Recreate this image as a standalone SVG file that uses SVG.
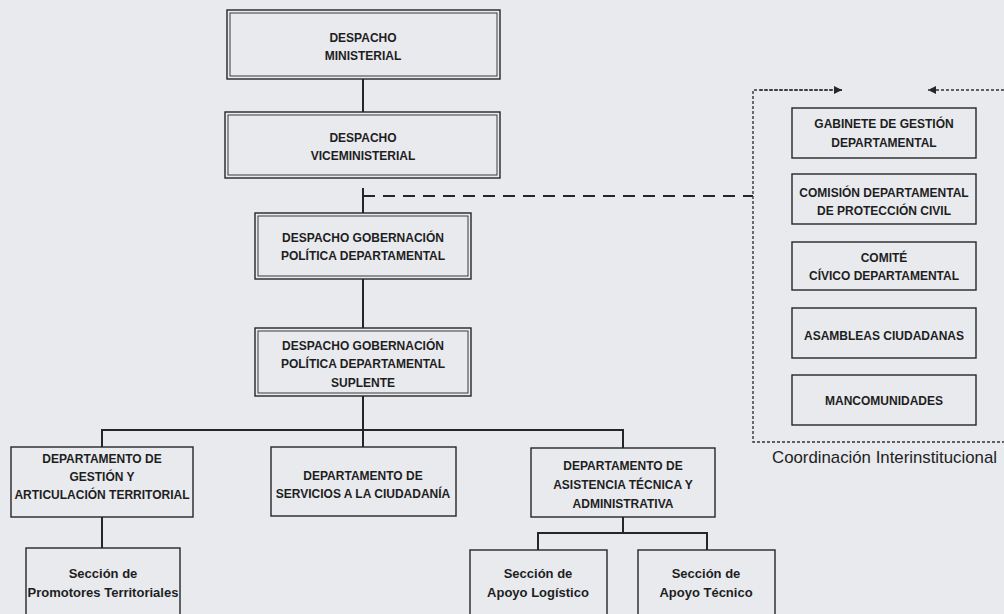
<svg xmlns="http://www.w3.org/2000/svg" width="1004" height="614" viewBox="0 0 1004 614">
<defs>
<style>
.bg{fill:#e8eaee}
.box{fill:none;stroke:#262626;stroke-width:1.4}
.in{fill:none;stroke:#3a3a3a;stroke-width:1}
.t{font-family:"Liberation Sans",Arial,sans-serif;font-size:12px;font-weight:bold;fill:#1e1e1e;text-anchor:middle}
.s{font-family:"Liberation Sans",Arial,sans-serif;font-size:13px;font-weight:bold;fill:#1e1e1e;text-anchor:middle}
.ln{fill:none;stroke:#262626;stroke-width:2}
.dash{fill:none;stroke:#262626;stroke-width:2;stroke-dasharray:12 8}
.dot{fill:none;stroke:#333;stroke-width:1.4;stroke-dasharray:3 2}
</style>
<marker id="ah" viewBox="0 0 10 10" refX="10" refY="5" markerWidth="10" markerHeight="8" markerUnits="userSpaceOnUse" orient="auto">
<path d="M0,0 L10,5 L0,10 Z" fill="#262626"/>
</marker>
</defs>
<rect class="bg" x="0" y="0" width="1004" height="614"/>

<g id="connectors">
<path class="ln" d="M363,79 V112"/>
<path class="ln" d="M363,188 V213"/>
<path class="dash" d="M363,196 H753"/>
<path class="ln" d="M363,279 V328"/>
<path class="ln" d="M363,396 V430"/>
<path class="ln" d="M102,447 V430 H623 V448"/>
<path class="ln" d="M363,430 V447"/>
<path class="ln" d="M102,517 V548"/>
<path class="ln" d="M623,517 V533"/>
<path class="ln" d="M538,550 V533 H707 V550"/>
<path class="dot" d="M842,90 H753 V442 H1004"/>
<path class="dot" d="M760,90 H842" marker-end="url(#ah)"/>
<path class="dot" d="M1004,90 H928" marker-end="url(#ah)"/>
</g>

<g id="despacho-ministerial">
<rect class="box" x="227" y="10" width="273" height="69"/>
<rect class="in" x="230" y="13" width="267" height="63"/>
<text class="t" x="363" y="42">DESPACHO</text>
<text class="t" x="363" y="60">MINISTERIAL</text>
</g>

<g id="despacho-viceministerial">
<rect class="box" x="225" y="112" width="275" height="66"/>
<rect class="in" x="228" y="115" width="269" height="60"/>
<text class="t" x="363" y="142">DESPACHO</text>
<text class="t" x="363" y="160">VICEMINISTERIAL</text>
</g>

<g id="gobernacion">
<rect class="box" x="255" y="213" width="216" height="66"/>
<rect class="in" x="258" y="216" width="210" height="60"/>
<text class="t" x="363" y="242">DESPACHO GOBERNACIÓN</text>
<text class="t" x="363" y="260">POLÍTICA DEPARTAMENTAL</text>
</g>

<g id="gobernacion-suplente">
<rect class="box" x="255" y="328" width="216" height="68"/>
<rect class="in" x="258" y="331" width="210" height="62"/>
<text class="t" x="363" y="350">DESPACHO GOBERNACIÓN</text>
<text class="t" x="363" y="368">POLÍTICA DEPARTAMENTAL</text>
<text class="t" x="363" y="387">SUPLENTE</text>
</g>

<g id="depto-gestion">
<rect class="box" x="11" y="447" width="182" height="70"/>
<text class="t" x="102" y="463">DEPARTAMENTO DE</text>
<text class="t" x="102" y="481">GESTIÓN Y</text>
<text class="t" x="102" y="499">ARTICULACIÓN TERRITORIAL</text>
</g>

<g id="depto-servicios">
<rect class="box" x="271" y="447" width="185" height="69"/>
<text class="t" x="363" y="480">DEPARTAMENTO DE</text>
<text class="t" x="363" y="498">SERVICIOS A LA CIUDADANÍA</text>
</g>

<g id="depto-asistencia">
<rect class="box" x="531" y="448" width="184" height="69"/>
<text class="t" x="623" y="470">DEPARTAMENTO DE</text>
<text class="t" x="623" y="489">ASISTENCIA TÉCNICA Y</text>
<text class="t" x="623" y="508">ADMINISTRATIVA</text>
</g>

<g id="seccion-promotores">
<rect class="box" x="26" y="548" width="154" height="80"/>
<text class="s" x="103" y="578">Sección de</text>
<text class="s" x="103" y="597">Promotores Territoriales</text>
</g>

<g id="seccion-logistico">
<rect class="box" x="470" y="550" width="137" height="80"/>
<text class="s" x="538" y="578">Sección de</text>
<text class="s" x="538" y="597">Apoyo Logístico</text>
</g>

<g id="seccion-tecnico">
<rect class="box" x="638" y="550" width="137" height="80"/>
<text class="s" x="706" y="578">Sección de</text>
<text class="s" x="706" y="597">Apoyo Técnico</text>
</g>

<g id="gabinete">
<rect class="box" x="792" y="108" width="184" height="50"/>
<text class="t" x="884" y="128">GABINETE DE GESTIÓN</text>
<text class="t" x="884" y="147">DEPARTAMENTAL</text>
</g>

<g id="comision">
<rect class="box" x="792" y="174" width="184" height="50"/>
<text class="t" x="884" y="197">COMISIÓN DEPARTAMENTAL</text>
<text class="t" x="884" y="215">DE PROTECCIÓN CIVIL</text>
</g>

<g id="comite">
<rect class="box" x="792" y="242" width="184" height="48"/>
<text class="t" x="884" y="262">COMITÉ</text>
<text class="t" x="884" y="280">CÍVICO DEPARTAMENTAL</text>
</g>

<g id="asambleas">
<rect class="box" x="792" y="308" width="184" height="50"/>
<text class="t" x="884" y="340">ASAMBLEAS CIUDADANAS</text>
</g>

<g id="mancomunidades">
<rect class="box" x="792" y="375" width="184" height="50"/>
<text class="t" x="884" y="405">MANCOMUNIDADES</text>
</g>

<g id="coordinacion-label">
<text x="772" y="463" textLength="225" lengthAdjust="spacingAndGlyphs" style="font-family:'Liberation Sans',Arial,sans-serif;font-size:17px;fill:#1e1e1e">Coordinación Interinstitucional</text>
</g>
</svg>
